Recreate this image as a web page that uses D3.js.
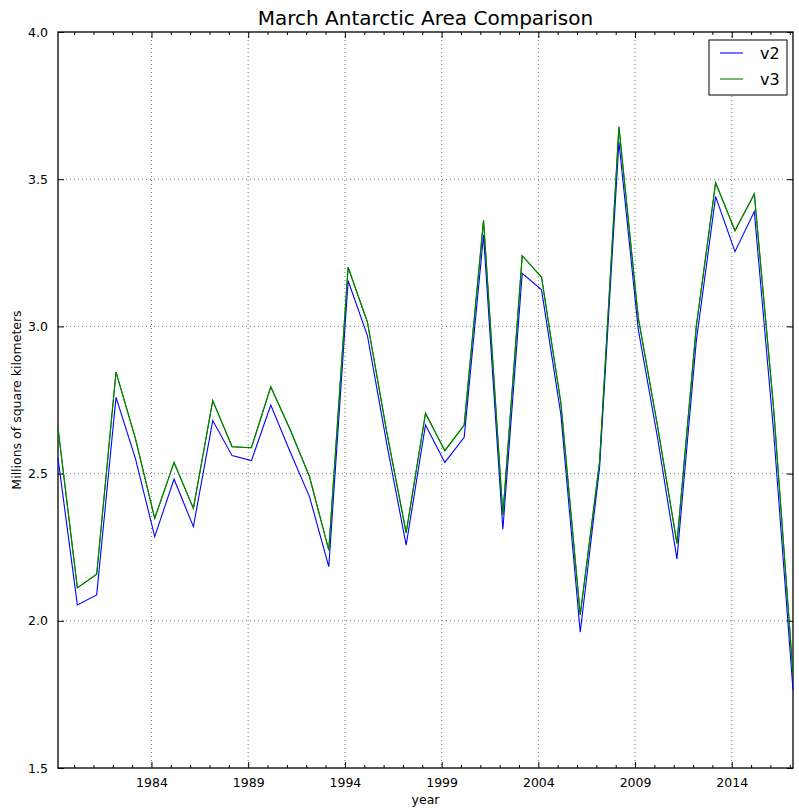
<!DOCTYPE html>
<html><head><meta charset="utf-8">
<script src="https://cdn.jsdelivr.net/npm/d3@7"></script>
<style>body{margin:0;background:#fff;} text{font-family:"DejaVu Sans",sans-serif;}</style>
</head><body>
<svg id="chart" width="799" height="812"></svg>
<script>
const years = [1979,1980,1981,1982,1983,1984,1985,1986,1987,1988,1989,1990,1991,1992,1993,1994,1995,1996,1997,1998,1999,2000,2001,2002,2003,2004,2005,2006,2007,2008,2009,2010,2011,2012,2013,2014,2015,2016,2017];
const v2 = [2.553,2.054,2.088,2.759,2.552,2.286,2.481,2.320,2.680,2.561,2.544,2.733,2.574,2.422,2.184,3.155,2.968,2.600,2.257,2.665,2.538,2.623,3.310,2.311,3.180,3.124,2.700,1.961,2.520,3.627,2.990,2.620,2.210,2.950,3.441,3.254,3.390,2.640,1.765];
const v3 = [2.655,2.112,2.158,2.845,2.620,2.348,2.538,2.382,2.748,2.591,2.588,2.795,2.650,2.490,2.240,3.201,3.014,2.640,2.299,2.705,2.578,2.665,3.360,2.360,3.240,3.167,2.740,2.020,2.540,3.678,3.030,2.660,2.263,3.000,3.488,3.325,3.450,2.720,1.820];
const xTicks = [1984,1989,1994,1999,2004,2009,2014];
const yTicks = [1.5,2.0,2.5,3.0,3.5,4.0];
const monthOffset = 2/12; // March

const svg = d3.select("#chart");
const L=58, R=793, T=32, B=768;
const x = d3.scaleLinear().domain([1979+monthOffset, 2017+monthOffset]).range([L,R]);
const y = d3.scaleLinear().domain([1.5,4.0]).range([B,T]);

// grid
const g = svg.append("g");
g.selectAll(".gx").data(xTicks).enter().append("line")
 .attr("x1",d=>x(d)).attr("x2",d=>x(d)).attr("y1",T).attr("y2",B)
 .attr("stroke","#555").attr("stroke-width",0.8).attr("stroke-dasharray","1,3");
g.selectAll(".gy").data(yTicks.slice(1,-1)).enter().append("line")
 .attr("x1",L).attr("x2",R).attr("y1",d=>y(d)).attr("y2",d=>y(d))
 .attr("stroke","#555").attr("stroke-width",0.8).attr("stroke-dasharray","1,3");

// axes with inside ticks
const minorYears = d3.range(1980,2018).filter(d=>!xTicks.includes(d));
function xAxis(orient, ypos){
  const ax = (orient==="bottom")? d3.axisBottom(x) : d3.axisTop(x);
  const gg = svg.append("g").attr("transform",`translate(0,${ypos})`)
   .call(ax.tickValues(xTicks).tickSize(-6).tickPadding(10).tickFormat(d3.format("d")));
  gg.select(".domain").remove();
  if(orient==="top") gg.selectAll("text").remove();
  const gm = svg.append("g").attr("transform",`translate(0,${ypos})`)
   .call(ax.tickValues(minorYears).tickSize(-3).tickFormat(""));
  gm.select(".domain").remove();
  return gg;
}
const xb = xAxis("bottom", B);
xb.selectAll("text").attr("font-size",12.5).attr("fill","#000");
xAxis("top", T);

const yl = svg.append("g").attr("transform",`translate(${L},0)`)
 .call(d3.axisLeft(y).tickValues(yTicks).tickSize(-6).tickPadding(10).tickFormat(d3.format(".1f")));
yl.select(".domain").remove();
yl.selectAll("text").attr("font-size",12.5).attr("fill","#000");
const yr = svg.append("g").attr("transform",`translate(${R},0)`)
 .call(d3.axisRight(y).tickValues(yTicks).tickSize(-6).tickFormat(""));
yr.select(".domain").remove();
svg.selectAll(".tick line").attr("stroke","#000");

// frame
svg.append("rect").attr("x",L).attr("y",T).attr("width",R-L).attr("height",B-T)
 .attr("fill","none").attr("stroke","#000").attr("stroke-width",1.3);

// lines
const line = vals => d3.line().x((d,i)=>x(years[i]+monthOffset)).y(d=>y(d))(vals);
svg.append("path").attr("d",line(v3)).attr("fill","none").attr("stroke","#008000").attr("stroke-width",1.1);
svg.append("path").attr("d",line(v2)).attr("fill","none").attr("stroke","#0000ff").attr("stroke-width",1.1);
// redraw green on top like matplotlib order (v3 drawn after v2)
svg.append("path").attr("d",line(v3)).attr("fill","none").attr("stroke","#008000").attr("stroke-width",1.1);

// title & labels
svg.append("text").attr("x",(L+R)/2).attr("y",25).attr("text-anchor","middle").attr("font-size",20).text("March Antarctic Area Comparison");
svg.append("text").attr("x",(L+R)/2).attr("y",804).attr("text-anchor","middle").attr("font-size",12.5).text("year");
svg.append("text").attr("transform",`translate(21,${(T+B)/2}) rotate(-90)`).attr("text-anchor","middle").attr("font-size",12.5).text("Millions of square kilometers");

// legend
const series = [{name:"v2",color:"#0000ff"},{name:"v3",color:"#008000"}];
const lg = svg.append("g");
lg.append("rect").attr("x",709).attr("y",40).attr("width",78).attr("height",55).attr("fill","#fff").attr("stroke","#000").attr("stroke-width",1);
series.forEach((s,i)=>{
  const yy = 53 + i*26;
  lg.append("line").attr("x1",720).attr("x2",743).attr("y1",yy).attr("y2",yy).attr("stroke",s.color).attr("stroke-width",1.1);
  lg.append("text").attr("x",760).attr("y",yy+6).attr("font-size",16).text(s.name);
});
</script>
</body></html>
